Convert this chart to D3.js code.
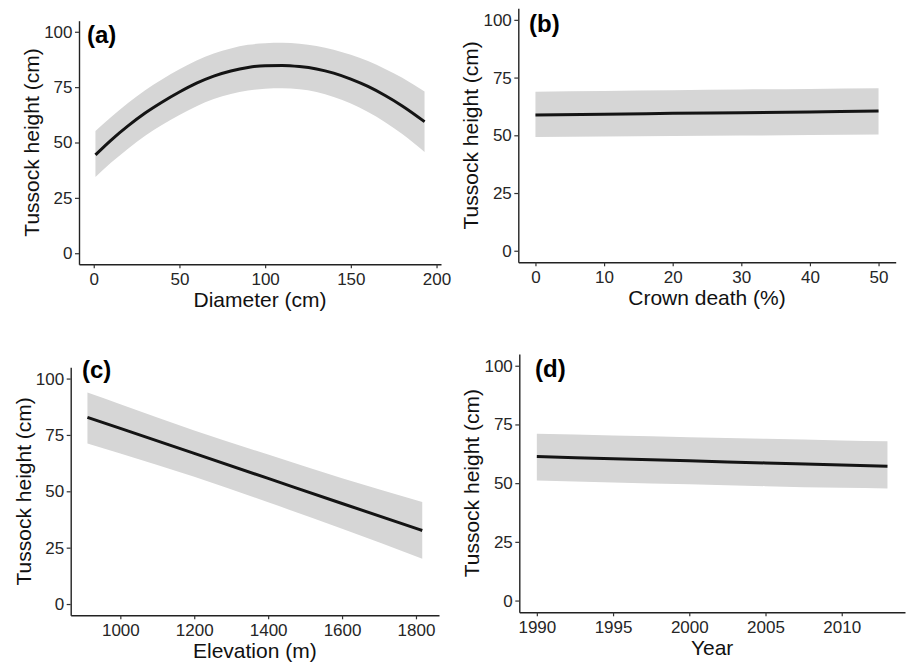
<!DOCTYPE html>
<html>
<head>
<meta charset="utf-8">
<script src="https://cdn.jsdelivr.net/npm/d3@7"></script>
<style>
  body { margin: 0; background: #fff; }
  svg { display: block; font-family: "Liberation Sans", Arial, sans-serif; }
</style>
</head>
<body>
<svg width="907" height="666"></svg>
<script>
// (a) diameter
var diameter = [1, 10, 20, 30, 40, 50, 60, 70, 80, 90, 100, 110, 120, 130, 140, 150, 160, 170, 180, 193];
var diamFit   = [44.4, 51, 57.5, 63.3, 68.3, 72.8, 76.8, 80, 82.3, 83.9, 84.7, 84.8, 84.3, 83.2, 81.3, 78.6, 75.3, 71.2, 66.5, 59.4];
var diamUpper = [55.2, 61.4, 67.8, 73.6, 78.6, 83.1, 87, 90.2, 92.5, 94.1, 94.8, 95, 94.6, 93.6, 91.9, 89.6, 86.8, 83.2, 79.2, 73];
var diamLower = [34.4, 40.8, 47.2, 53, 58, 62.4, 66.4, 69.6, 71.9, 73.5, 74.3, 74.5, 74, 72.8, 70.6, 67.6, 63.8, 59.2, 53.8, 45.7];

// (b) crown death
var crown = [0, 10, 20, 30, 40, 50];
var crownFit   = [58.8, 59.1, 59.5, 59.8, 60.1, 60.5];
var crownUpper = [68.9, 69.2, 69.5, 69.8, 70.1, 70.4];
var crownLower = [49.3, 49.5, 49.7, 49.9, 50.1, 50.3];

// (c) elevation
var elevation = [911, 1000, 1200, 1400, 1600, 1817];
var elevFit   = [82.8, 77.9, 66.8, 55.7, 44.6, 32.6];
var elevUpper = [93.8, 88.6, 77, 66.3, 55.8, 45.3];
var elevLower = [71.2, 66.8, 56.5, 45.1, 33.4, 20.1];

// (d) year
var year = [1990, 1995, 2000, 2005, 2010, 2013];
var yearFit   = [61.3, 60.4, 59.5, 58.6, 57.7, 57.2];
var yearUpper = [71, 70.3, 69.6, 68.9, 68.2, 67.8];
var yearLower = [51.1, 50.3, 49.5, 48.7, 48, 47.7];

var yTicks = [0, 25, 50, 75, 100];
var xTicksA = [0, 50, 100, 150, 200];
var xTicksB = [0, 10, 20, 30, 40, 50];
var xTicksC = [1000, 1200, 1400, 1600, 1800];
var xTicksD = [1990, 1995, 2000, 2005, 2010];

var panels = [
  {tag: "(a)", xs: diameter, fit: diamFit, up: diamUpper, lo: diamLower, ticks: xTicksA,
   xlab: "Diameter (cm)", box: [79, 441, 20.7, 264.3], tagPos: [87, 43]},
  {tag: "(b)", xs: crown, fit: crownFit, up: crownUpper, lo: crownLower, ticks: xTicksB,
   xlab: "Crown death (%)", box: [518.3, 895.7, 8.3, 262.3], tagPos: [529, 32]},
  {tag: "(c)", xs: elevation, fit: elevFit, up: elevUpper, lo: elevLower, ticks: xTicksC,
   xlab: "Elevation (m)", box: [70.7, 439, 367.3, 615.3], tagPos: [82, 378]},
  {tag: "(d)", xs: year, fit: yearFit, up: yearUpper, lo: yearLower, ticks: xTicksD,
   xlab: "Year", box: [519.3, 905, 354, 612.3], tagPos: [535, 376.5]}
];

var svg = d3.select("svg");

panels.forEach(function(p) {
  var left = p.box[0], right = p.box[1], top = p.box[2], bottom = p.box[3];
  var ext = d3.extent(p.xs);
  var pad = (ext[1] - ext[0]) * 0.05;   // ggplot-style expansion
  var x = d3.scaleLinear().domain([ext[0] - pad, ext[1] + pad]).range([left, right]);
  var y = d3.scaleLinear().domain([-5, 105]).range([bottom, top]);

  var rows = p.xs.map(function(v, i) {
    return {x: v, fit: p.fit[i], up: p.up[i], lo: p.lo[i]};
  });

  var g = svg.append("g");

  g.append("path")
    .datum(rows)
    .attr("fill", "#d6d6d6")
    .attr("d", d3.area()
      .x(function(d) { return x(d.x); })
      .y0(function(d) { return y(d.lo); })
      .y1(function(d) { return y(d.up); })
      .curve(d3.curveMonotoneX));

  g.append("path")
    .datum(rows)
    .attr("fill", "none")
    .attr("stroke", "#141414")
    .attr("stroke-width", 3)
    .attr("d", d3.line()
      .x(function(d) { return x(d.x); })
      .y(function(d) { return y(d.fit); })
      .curve(d3.curveMonotoneX));

  var yAxis = g.append("g")
    .attr("transform", "translate(" + left + ",0)")
    .call(d3.axisLeft(y).tickValues(yTicks).tickSize(4).tickPadding(2.5).tickSizeOuter(0));
  var xAxis = g.append("g")
    .attr("transform", "translate(0," + bottom + ")")
    .call(d3.axisBottom(x).tickValues(p.ticks).tickSize(4).tickPadding(5).tickFormat(d3.format("d")).tickSizeOuter(0));

  [yAxis, xAxis].forEach(function(a) {
    a.select(".domain").attr("stroke", "#222").attr("stroke-width", 1.4);
    a.selectAll(".tick line").attr("stroke", "#333").attr("stroke-width", 1.2);
    a.selectAll(".tick text")
      .attr("fill", "#262626")
      .style("font-size", "17px")
      .style("font-family", "'Liberation Sans', Arial, sans-serif");
  });

  g.append("text")
    .attr("transform", "translate(" + (left - 40) + "," + ((top + bottom) / 2) + ") rotate(-90)")
    .attr("text-anchor", "middle")
    .style("font-size", "21px")
    .attr("fill", "#111")
    .text("Tussock height (cm)");

  g.append("text")
    .attr("x", (left + right) / 2)
    .attr("y", bottom + 43)
    .attr("text-anchor", "middle")
    .style("font-size", "21px")
    .attr("fill", "#111")
    .text(p.xlab);

  g.append("text")
    .attr("x", p.tagPos[0])
    .attr("y", p.tagPos[1])
    .style("font-size", "24px")
    .style("font-weight", "bold")
    .attr("fill", "#000")
    .text(p.tag);
});
</script>
</body>
</html>
